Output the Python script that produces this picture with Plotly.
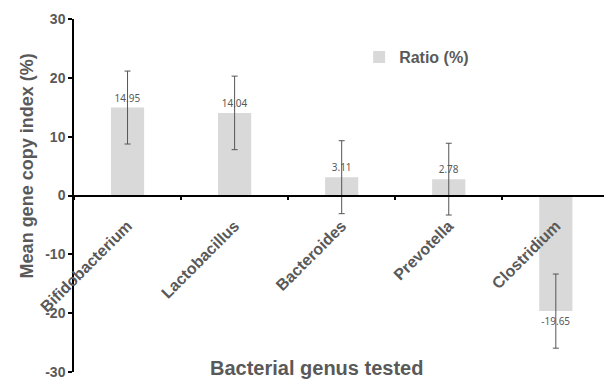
import plotly.graph_objects as go

# Mean gene copy index (%) per bacterial genus, with error bar half-widths
genera = ["Bifidobacterium", "Lactobacillus", "Bacteroides", "Prevotella", "Clostridium"]
ratio = [14.95, 14.04, 3.11, 2.78, -19.65]
ratio_err = [6.2, 6.25, 6.2, 6.1, 6.3]
y_ticks = [-30, -20, -10, 0, 10, 20, 30]
y_tick_text = ["-30", "-20", "-10", "0", "10", "20", "30"]

GRAY_TEXT = "#595959"
BAR_FILL = "#d9d9d9"

fig = go.Figure()
fig.add_trace(go.Bar(
    x=genera,
    y=ratio,
    name="Ratio (%)",
    width=0.31,
    marker=dict(color=BAR_FILL, line=dict(width=0)),
    error_y=dict(type="data", array=ratio_err, visible=True,
                 color="#555555", thickness=1, width=3),
    text=[f"{v:.2f}" for v in ratio],
    textposition="outside",
    textfont=dict(family="Noto Sans", size=10, color=GRAY_TEXT),
    cliponaxis=False,
))

fig.update_layout(
    width=604, height=380,
    margin=dict(l=74, r=0, t=19, b=4),
    plot_bgcolor="white", paper_bgcolor="white",
    font=dict(family="Liberation Sans", color=GRAY_TEXT),
    showlegend=True,
    legend=dict(x=0.538, y=0.94, xanchor="left", yanchor="top",
                bgcolor="rgba(0,0,0,0)",
                font=dict(family="Liberation Sans", size=16, color=GRAY_TEXT, weight="bold")),
    xaxis=dict(
        type="category",
        range=[-0.5, 4.45],
        anchor="free", position=0.5,
        showline=True, linecolor="black", linewidth=1.5,
        ticks="outside", tickson="boundaries", ticklen=4, tickcolor="black", tickwidth=1.5,
        tickangle=-45, ticklabelstandoff=14,
        tickfont=dict(family="Liberation Sans", size=16, color=GRAY_TEXT, weight="bold"),
        showgrid=False, zeroline=False,
    ),
    yaxis=dict(
        range=[-30, 30],
        tickvals=y_ticks, ticktext=y_tick_text,
        ticklabeloverflow="allow",
        showline=True, linecolor="black", linewidth=1.5,
        ticks="outside", ticklen=4, tickcolor="black", tickwidth=1.5,
        tickfont=dict(family="Liberation Sans", size=14, color=GRAY_TEXT, weight="bold"),
        showgrid=False, zeroline=False,
    ),
    annotations=[
        dict(text="Mean gene copy index (%)", x=-0.087, y=0.585,
             xref="paper", yref="paper", xanchor="center", yanchor="middle",
             textangle=-90, showarrow=False,
             font=dict(family="Liberation Sans", size=18, color=GRAY_TEXT, weight="bold")),
        dict(text="Bacterial genus tested", x=0.457, y=0.01,
             xref="paper", yref="paper", xanchor="center", yanchor="middle",
             showarrow=False,
             font=dict(family="Liberation Sans", size=20, color=GRAY_TEXT, weight="bold")),
    ],
)

fig.write_html("out.html")
